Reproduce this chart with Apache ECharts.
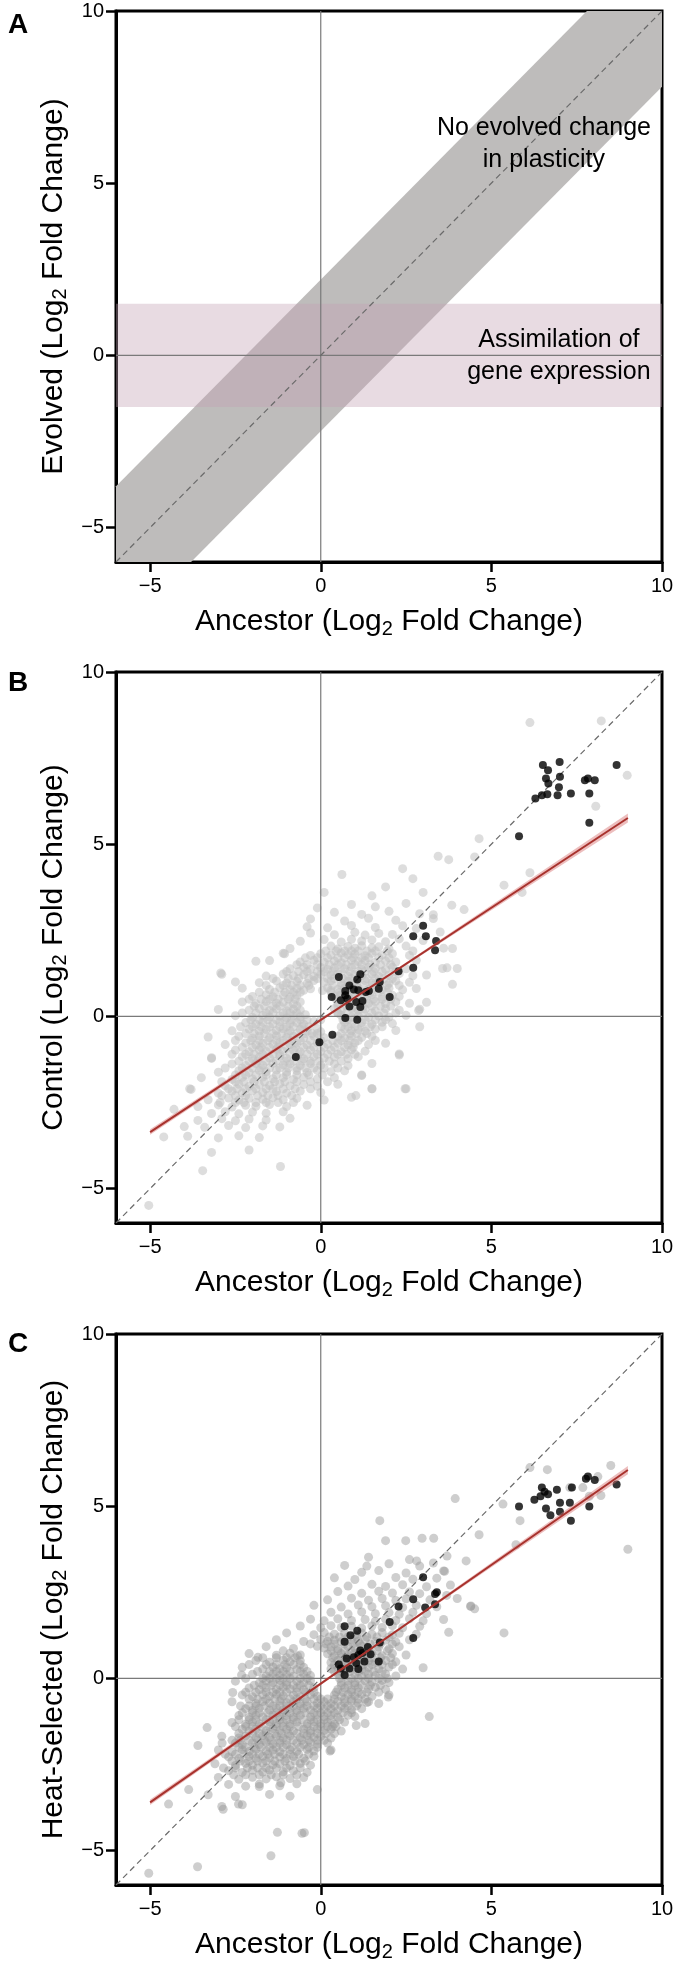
<!DOCTYPE html>
<html><head><meta charset="utf-8">
<script src="https://cdn.jsdelivr.net/npm/echarts@6/dist/echarts.min.js"></script>
<style>html,body{margin:0;padding:0;background:#fff}#c{width:677px;height:1971px}</style>
</head><body><div id="c"></div>
<script>
// ---------- data ----------
const tickValues = [-5, 0, 5, 10];
const axisMin = -6, axisMax = 10;
const panelLetters = ['A', 'B', 'C'];
const yTitles = ['Evolved', 'Control', 'Heat-Selected'];
const xTitle = 'Ancestor';
const diagonal = [[-6, -6], [10, 10]];
const zeroVertical = [[0, -6], [0, 10]];
const zeroHorizontal = [[-6, 0], [10, 0]];

// Panel A
const aIdentityBand = [[-6, -3.8], [7.8, 10], [10, 10], [10, 7.8], [-3.8, -6], [-6, -6]];
const aAssimilation = [-1.5, 1.5];
const aNotes = [
  { text: 'No evolved change\nin plasticity', at: [6.54, 6.13] },
  { text: 'Assimilation of\ngene expression', at: [6.98, -0.03] }
];

// Panel B (Control vs Ancestor)
const bGray = [
[-0.1,3.15],[0.9,3.25],[1.6,3.18],[2.5,3.28],
[0.4,3.02],[1.2,2.96],[2.0,3.05],[2.9,2.98],
[-0.3,2.83],[0.7,2.77],[1.4,2.85],[2.2,2.79],[3.3,2.84],
[0.2,2.57],[0.9,2.64],[1.6,2.58],[2.4,2.63],[2.8,2.55],
[-0.3,2.42],[0.4,2.37],[1.0,2.44],[1.3,2.36],[1.7,2.41],[2.1,2.38],[3.5,2.45],
[-0.6,2.18],[0.1,2.23],[0.6,2.16],[0.9,2.24],[1.2,2.19],[1.5,2.22],[1.9,2.17],[2.3,2.25],[3.0,2.2],
[-0.9,1.97],[0.3,2.04],[0.5,1.96],[0.8,2.03],[1.0,1.98],[1.2,2.05],[1.5,1.99],[1.7,2.02],[2.0,1.96],[2.5,2.04],[3.6,1.98],
[-1.1,1.83],[-0.3,1.77],[0.0,1.82],[0.3,1.78],[0.6,1.84],[0.8,1.79],[1.0,1.81],[1.3,1.76],[1.5,1.83],[1.8,1.78],[2.1,1.82],[2.6,1.77],
[-1.5,1.62],[-0.6,1.58],[-0.2,1.63],[0.1,1.57],[0.4,1.61],[0.6,1.56],[0.9,1.63],[1.1,1.59],[1.3,1.62],[1.6,1.57],[1.9,1.61],[2.2,1.58],[2.8,1.63],
[-0.9,1.38],[-0.5,1.43],[-0.3,1.37],[0.0,1.42],[0.2,1.36],[0.4,1.41],[0.7,1.38],[0.9,1.43],[1.2,1.37],[1.4,1.42],[1.6,1.39],[1.9,1.36],[2.1,1.43],[2.5,1.38],[3.7,1.41],
[-2.9,1.22],[-1.6,1.17],[-1.1,1.23],[-0.8,1.18],[-0.5,1.21],[-0.2,1.16],[0.0,1.22],[0.3,1.19],[0.5,1.24],[0.8,1.17],[1.0,1.21],[1.2,1.18],[1.5,1.23],[1.7,1.16],[2.0,1.2],[2.3,1.24],[2.7,1.18],
[-1.8,0.98],[-1.3,1.03],[-1.0,0.97],[-0.7,1.02],[-0.4,0.96],[-0.2,1.04],[0.1,0.99],[0.3,1.03],[0.6,0.97],[0.8,1.02],[1.0,0.98],[1.3,1.04],[1.5,0.97],[1.7,1.01],[2.0,0.96],[2.2,1.03],[2.6,0.99],
[-2.3,0.82],[-1.5,0.78],[-1.2,0.83],[-0.9,0.77],[-0.7,0.81],[-0.5,0.76],[0.2,0.83],[0.5,0.78],[0.7,0.82],[0.9,0.77],[1.1,0.81],[1.4,0.79],[1.6,0.84],[1.8,0.78],[2.0,0.82],[2.4,0.77],[2.8,0.81],
[-2.0,0.58],[-1.6,0.63],[-1.4,0.57],[-1.1,0.62],[-0.9,0.56],[-0.7,0.61],[0.4,0.59],[0.6,0.63],[0.8,0.57],[1.0,0.62],[1.3,0.58],[1.5,0.63],[1.8,0.56],[2.1,0.61],[2.3,0.58],
[-2.3,0.42],[-1.9,0.37],[-1.6,0.43],[-1.3,0.38],[-1.1,0.41],[-0.8,0.36],[-0.6,0.42],[0.5,0.38],[0.7,0.43],[0.9,0.37],[1.2,0.41],[1.4,0.38],[1.6,0.43],[1.9,0.37],[2.2,0.42],[2.6,0.38],[3.1,0.41],
[-2.1,0.18],[-1.8,0.23],[-1.5,0.17],[-1.3,0.22],[-1.0,0.16],[-0.8,0.21],[-0.6,0.18],[0.4,0.22],[0.6,0.17],[0.9,0.23],[1.1,0.18],[1.3,0.21],[1.6,0.16],[1.9,0.22],[2.3,0.18],[2.9,0.21],
[-2.5,0.02],[-2.0,-0.03],[-1.7,0.03],[-1.5,-0.02],[-1.2,0.01],[-1.0,-0.04],[-0.8,0.02],[-0.6,-0.01],[0.6,0.03],[0.9,-0.02],[1.1,0.02],[1.4,-0.03],[1.7,0.01],[2.0,-0.02],[2.5,0.03],
[-2.2,-0.18],[-1.9,-0.23],[-1.7,-0.17],[-1.4,-0.22],[-1.2,-0.16],[-0.9,-0.21],[-0.7,-0.18],[-0.5,-0.23],[0.7,-0.17],[0.9,-0.22],[1.2,-0.18],[1.5,-0.23],[1.8,-0.17],[2.1,-0.21],
[-2.6,-0.42],[-2.1,-0.37],[-1.8,-0.43],[-1.6,-0.38],[-1.3,-0.41],[-1.1,-0.36],[-0.9,-0.42],[-0.6,-0.38],[-0.4,-0.43],[0.7,-0.37],[0.9,-0.42],[1.1,-0.38],[1.3,-0.43],[1.6,-0.37],[2.2,-0.41],
[-2.4,-0.58],[-2.0,-0.63],[-1.8,-0.57],[-1.5,-0.62],[-1.3,-0.56],[-1.0,-0.61],[-0.8,-0.58],[-0.5,-0.63],[-0.2,-0.57],[0.1,-0.62],[0.5,-0.58],[0.7,-0.63],[0.9,-0.57],[1.2,-0.61],[1.5,-0.58],
[-2.8,-0.82],[-2.2,-0.77],[-1.9,-0.83],[-1.7,-0.78],[-1.4,-0.81],[-1.2,-0.76],[-0.9,-0.82],[-0.7,-0.78],[-0.4,-0.83],[-0.1,-0.77],[0.2,-0.81],[0.5,-0.78],[0.8,-0.83],[1.0,-0.77],[1.4,-0.82],[1.9,-0.78],
[-2.5,-0.98],[-2.1,-1.03],[-1.8,-0.97],[-1.6,-1.02],[-1.3,-0.96],[-1.1,-1.01],[-0.8,-0.98],[-0.6,-1.03],[-0.3,-0.97],[0.0,-1.02],[0.3,-0.98],[0.6,-1.03],[0.9,-0.97],[1.3,-1.01],
[-3.2,-1.22],[-2.3,-1.17],[-2.0,-1.23],[-1.8,-1.18],[-1.5,-1.21],[-1.2,-1.16],[-1.0,-1.22],[-0.7,-1.18],[-0.5,-1.23],[-0.2,-1.17],[0.1,-1.21],[0.4,-1.18],[0.8,-1.23],[1.1,-1.17],[2.3,-1.12],
[-2.6,-1.38],[-2.2,-1.43],[-1.9,-1.37],[-1.7,-1.42],[-1.4,-1.36],[-1.1,-1.41],[-0.9,-1.38],[-0.6,-1.43],[-0.3,-1.37],[0.0,-1.42],[0.4,-1.38],[0.8,-1.43],[1.5,-1.37],
[-3.0,-1.62],[-2.4,-1.58],[-2.1,-1.63],[-1.8,-1.57],[-1.6,-1.61],[-1.3,-1.56],[-1.0,-1.62],[-0.7,-1.58],[-0.4,-1.63],[-0.1,-1.57],[0.3,-1.61],[0.7,-1.58],
[-3.5,-1.78],[-2.6,-1.83],[-2.3,-1.77],[-2.0,-1.82],[-1.7,-1.76],[-1.4,-1.81],[-1.1,-1.78],[-0.8,-1.83],[-0.5,-1.77],[-0.1,-1.82],[0.4,-1.78],[1.2,-1.72],
[-2.8,-2.02],[-2.4,-1.97],[-2.1,-2.03],[-1.8,-1.98],[-1.5,-2.01],[-1.2,-1.96],[-0.9,-2.02],[-0.5,-1.98],[-0.1,-2.03],[0.5,-1.97],
[-3.8,-2.12],[-3.0,-2.23],[-2.6,-2.17],[-2.3,-2.22],[-2.0,-2.16],[-1.7,-2.21],[-1.3,-2.18],[-1.0,-2.23],[-0.6,-2.17],[0.0,-2.21],[1.5,-2.1],[2.5,-2.1],
[-3.3,-2.42],[-2.7,-2.37],[-2.4,-2.43],[-2.1,-2.38],[-1.7,-2.41],[-1.4,-2.36],[-1.1,-2.42],[-0.7,-2.38],[0.1,-2.43],
[-3.6,-2.62],[-3.0,-2.57],[-2.6,-2.63],[-2.2,-2.58],[-1.9,-2.61],[-1.5,-2.56],[-1.0,-2.62],[-0.4,-2.58],[0.9,-2.35],
[-3.2,-2.82],[-2.8,-2.77],[-2.4,-2.83],[-2.0,-2.78],[-1.6,-2.81],[-1.1,-2.77],
[-3.6,-3.02],[-2.9,-2.97],[-2.5,-3.03],[-2.1,-2.98],[-1.6,-3.01],[-0.9,-2.96],
[-3.4,-3.22],[-2.7,-3.17],[-2.2,-3.23],[-1.7,-3.18],[-1.2,-3.21],
[-3.9,-3.48],[-3.0,-3.53],[-2.4,-3.47],[-1.8,-3.52],
[-2.1,-3.88],[-3.2,-3.95],[-3.46,-4.48],[-1.18,-4.36],[-5.04,-5.49],[-4.3,-2.7],[-4.0,-3.2],[-4.6,-3.5],[-3.84,-2.1],[-3.2,-1.2],[-3.3,-0.6],[-3.0,0.2],[-2.5,1.0],[-2.93,1.26],[-1.9,1.6],[-1.06,1.82],[-0.4,2.6],[0.1,3.6],[0.62,4.12],[1.5,3.5],[1.9,3.76],[2.4,4.29],[2.7,4.0],[3.0,3.6],[3.44,4.65],[3.75,4.55],[4.51,4.63],[4.64,5.16],[3.84,3.23],[3.3,2.95],[4.2,3.1],[5.37,3.81],[5.9,3.6],[6.13,4.17],[3.86,1.97],[3.57,1.39],[4.0,1.39],[3.86,0.93],[2.7,1.9],[3.1,1.2],[2.87,0.17],[2.9,-0.3],[2.3,-1.09],[2.47,-2.1],[1.5,-2.1],[1.03,-2.3],[1.2,-1.7],[6.13,8.53],[8.22,8.58],[8.98,7.0],[8.06,6.1],
[-0.4,-0.1],[-0.2,-0.15],[0.0,-0.1],[-0.35,-0.3],[-0.1,-0.35],[-0.25,-0.5],[0.0,-0.45],[-0.45,0.05],[0.5,0.1],[0.05,0.75],[-0.3,0.8],[0.3,0.75],[0.55,0.6]
];
// dense-core fill-in rows for panel B: [y, [x values]]
const bGrayCoreRows = [
[1.9,[0.15,0.45,0.7,0.9,1.1,1.35,1.6,1.95]],
[1.7,[-0.45,-0.1,0.2,0.5,0.7,0.95,1.2,1.4,1.7,2.0]],
[1.5,[-0.7,-0.4,-0.1,0.25,0.5,0.75,1.0,1.2,1.45,1.75,2.05]],
[1.3,[-1.0,-0.65,-0.4,-0.1,0.1,0.35,0.6,0.85,1.1,1.3,1.55,1.8,2.2]],
[1.1,[-1.4,-0.95,-0.65,-0.35,-0.1,0.2,0.4,0.65,0.9,1.1,1.35,1.6,1.85,2.1]],
[0.9,[-1.6,-1.1,-0.85,-0.6,-0.35,0.35,0.6,0.8,1.05,1.25,1.5,1.7,1.95,2.3]],
[0.7,[-1.8,-1.35,-1.05,-0.8,-0.6,0.3,0.55,0.75,0.95,1.2,1.45,1.7,1.95]],
[0.5,[-2.1,-1.75,-1.5,-1.25,-0.95,-0.75,0.45,0.65,0.85,1.1,1.35,1.55,1.8,2.05]],
[0.3,[-1.95,-1.65,-1.4,-1.2,-0.95,-0.7,0.5,0.75,1.0,1.25,1.5,1.75,2.05]],
[0.1,[-2.3,-1.9,-1.6,-1.4,-1.1,-0.9,-0.7,0.5,0.75,1.0,1.25,1.5,1.85,2.2]],
[-0.1,[-2.05,-1.8,-1.55,-1.3,-1.05,-0.85,-0.6,0.65,0.8,1.05,1.3,1.6,1.9]],
[-0.3,[-2.35,-2.0,-1.75,-1.5,-1.2,-1.0,-0.8,-0.55,0.6,0.8,1.0,1.2,1.45,1.8]],
[-0.5,[-2.2,-1.95,-1.65,-1.4,-1.15,-0.95,-0.7,-0.45,-0.1,0.6,0.85,1.05,1.35]],
[-0.7,[-2.5,-2.05,-1.8,-1.55,-1.3,-1.1,-0.85,-0.6,-0.3,0.0,0.35,0.6,0.85,1.1,1.6]],
[-0.9,[-2.3,-2.0,-1.75,-1.5,-1.25,-1.0,-0.75,-0.5,-0.2,0.1,0.4,0.7,0.95]],
[-1.1,[-2.6,-2.2,-1.95,-1.7,-1.4,-1.2,-0.9,-0.65,-0.4,-0.1,0.2,0.5,0.75,1.0]],
[-1.3,[-2.4,-2.1,-1.85,-1.6,-1.3,-1.05,-0.8,-0.55,-0.3,-0.05,0.25,0.6]],
[-1.5,[-2.8,-2.3,-2.0,-1.75,-1.5,-1.2,-0.95,-0.7,-0.45,-0.2,0.1,0.5]],
[-1.7,[-2.5,-2.2,-1.9,-1.6,-1.3,-1.0,-0.7,-0.35,0.05]],
[-1.9,[-2.9,-2.5,-2.25,-1.95,-1.65,-1.35,-1.05,-0.7,-0.3,0.2]],
[-2.1,[-2.7,-2.45,-2.2,-1.9,-1.6,-1.4,-1.1,-0.75,-0.3]],
[-2.3,[-2.9,-2.5,-2.2,-1.85,-1.55,-1.25,-0.85]],
[-2.5,[-2.95,-2.5,-2.25,-1.9,-1.6,-1.25,-0.8]]
];
const bBlack = [
[5.81,5.23],[7.87,5.62],[6.29,6.33],[6.48,6.42],[6.64,6.45],[6.94,6.42],[7.33,6.47],[7.87,6.47],[6.67,6.76],[6.98,6.65],[7.74,6.86],[8.03,6.86],[7.83,6.91],[6.51,7.30],[7.0,7.39],[6.66,7.15],[8.67,7.30],[6.60,6.91],[7.01,6.96],
[0.53,1.14],[0.32,0.56],[1.07,1.07],[1.16,1.22],[0.84,0.90],[0.72,0.74],[0.72,0.61],[0.59,0.47],[0.78,0.51],[1.10,0.76],[1.22,0.45],[1.41,0.74],[1.70,0.80],[1.73,1.00],[2.02,0.56],[0.84,0.29],[1.16,0.27],[0.72,-0.05],[1.07,-0.10],[0.34,-0.53],[-0.04,-0.75],[-0.73,-1.18],[2.28,1.31],[2.71,1.41],[2.71,2.33],[3.0,2.63],[3.08,2.33],[3.38,2.19],[3.35,1.92],[0.97,0.78],[1.32,0.71],[1.04,0.42]
];
const bFit = [[-5, -3.36], [9, 5.76]];
const bFitBand = [[-5, -3.44], [2, 1.17], [9, 5.63], [9, 5.89], [2, 1.23], [-5, -3.28]];

// Panel C (Heat-Selected vs Ancestor)
const cGray = [
[1.4,3.52],[2.6,3.45],[3.7,3.55],
[0.7,3.28],[2.0,3.33],[2.9,3.26],[3.3,3.35],
[1.2,3.08],[1.7,3.13],[2.5,3.06],[3.6,3.12],
[0.4,2.92],[1.0,2.87],[2.2,2.93],[2.7,2.88],[3.4,2.91],
[0.8,2.68],[1.5,2.73],[1.9,2.67],[2.4,2.72],[3.1,2.66],[3.8,2.71],
[0.5,2.52],[1.2,2.47],[1.7,2.53],[2.1,2.48],[2.6,2.51],[2.9,2.46],
[0.2,2.28],[0.9,2.33],[1.4,2.27],[1.8,2.32],[2.2,2.26],[2.5,2.31],[3.2,2.28],[4.0,2.32],
[-0.2,2.12],[0.6,2.07],[1.1,2.13],[1.5,2.08],[1.9,2.11],[2.4,2.06],[2.8,2.12],[3.4,2.08],[4.4,2.1],
[0.3,1.92],[0.8,1.87],[1.2,1.93],[1.6,1.88],[2.0,1.91],[2.3,1.86],[2.7,1.92],[3.1,1.88],
[-0.3,1.72],[0.1,1.67],[0.5,1.73],[0.9,1.68],[1.3,1.71],[1.6,1.66],[1.9,1.72],[2.2,1.68],[2.6,1.73],[3.0,1.67],[3.6,1.71],
[-0.6,1.52],[0.0,1.47],[0.3,1.53],[0.6,1.48],[0.9,1.51],[1.2,1.46],[1.5,1.52],[1.8,1.48],[2.1,1.53],[2.4,1.47],[2.9,1.51],
[-1.0,1.32],[-0.2,1.27],[0.1,1.33],[0.4,1.28],[0.7,1.31],[1.0,1.26],[1.2,1.32],[1.5,1.28],[1.8,1.33],[2.1,1.27],[2.3,1.31],[2.8,1.28],
[-1.3,1.12],[-0.5,1.07],[0.0,1.13],[0.2,1.08],[0.4,1.11],[0.6,1.06],[0.9,1.12],[1.1,1.08],[1.3,1.13],[1.6,1.07],[1.9,1.11],[2.2,1.06],[2.6,1.12],
[-1.6,0.92],[-0.8,0.87],[-0.1,0.93],[0.1,0.88],[0.3,0.91],[0.5,0.86],[0.8,0.92],[1.0,0.88],[1.2,0.93],[1.4,0.87],[1.7,0.91],[2.0,0.86],[2.3,0.92],
[-2.1,0.72],[-1.3,0.67],[-0.9,0.73],[-0.6,0.68],[0.2,0.71],[0.4,0.66],[0.6,0.72],[0.8,0.68],[1.0,0.73],[1.3,0.67],[1.5,0.71],[1.8,0.66],[2.1,0.72],[2.5,0.68],
[-1.9,0.52],[-1.5,0.47],[-1.1,0.53],[-0.9,0.48],[-0.6,0.51],[0.3,0.46],[0.5,0.52],[0.7,0.48],[0.9,0.53],[1.1,0.47],[1.4,0.51],[1.6,0.46],[1.9,0.52],[2.2,0.48],
[-2.3,0.32],[-1.7,0.27],[-1.4,0.33],[-1.2,0.28],[-1.0,0.31],[-0.7,0.26],[-0.5,0.32],[0.3,0.28],[0.5,0.33],[0.7,0.27],[0.9,0.31],[1.2,0.26],[1.4,0.32],[1.7,0.28],[2.0,0.33],[2.4,0.27],[3.0,0.31],
[-2.0,0.12],[-1.6,0.07],[-1.4,0.13],[-1.2,0.08],[-1.0,0.11],[-0.8,0.06],[-0.5,0.12],[-0.3,0.08],[0.5,0.13],[0.7,0.07],[1.0,0.11],[1.2,0.06],[1.4,0.12],[1.6,0.08],[1.9,0.13],[2.2,0.07],
[-2.5,-0.08],[-1.8,-0.13],[-1.6,-0.07],[-1.4,-0.12],[-1.2,-0.06],[-1.0,-0.11],[-0.7,-0.08],[-0.5,-0.13],[-0.3,-0.07],[0.6,-0.12],[0.8,-0.08],[1.0,-0.13],[1.3,-0.07],[1.5,-0.11],[1.8,-0.06],[2.0,-0.12],
[-2.1,-0.28],[-1.8,-0.33],[-1.6,-0.27],[-1.3,-0.32],[-1.1,-0.26],[-0.9,-0.31],[-0.7,-0.28],[-0.5,-0.33],[-0.2,-0.27],[0.5,-0.32],[0.7,-0.28],[0.9,-0.33],[1.1,-0.27],[1.4,-0.31],[1.6,-0.26],[1.9,-0.32],
[-2.3,-0.48],[-2.0,-0.53],[-1.7,-0.47],[-1.5,-0.52],[-1.3,-0.46],[-1.1,-0.51],[-0.8,-0.48],[-0.6,-0.53],[-0.3,-0.47],[-0.1,-0.52],[0.4,-0.48],[0.6,-0.53],[0.8,-0.47],[1.0,-0.51],[1.2,-0.46],[1.5,-0.52],[2.0,-0.48],
[-2.6,-0.68],[-1.9,-0.73],[-1.7,-0.67],[-1.5,-0.72],[-1.2,-0.66],[-1.0,-0.71],[-0.8,-0.68],[-0.6,-0.73],[-0.4,-0.67],[-0.1,-0.72],[0.1,-0.68],[0.3,-0.73],[0.5,-0.67],[0.7,-0.71],[0.9,-0.66],[1.1,-0.72],[1.4,-0.68],[1.7,-0.73],
[-2.2,-0.88],[-2.0,-0.93],[-1.8,-0.87],[-1.5,-0.92],[-1.3,-0.86],[-1.1,-0.91],[-0.9,-0.88],[-0.7,-0.93],[-0.5,-0.87],[-0.3,-0.92],[-0.1,-0.86],[0.1,-0.91],[0.3,-0.88],[0.5,-0.93],[0.7,-0.87],[0.9,-0.91],[1.2,-0.88],
[-2.4,-1.08],[-2.1,-1.13],[-1.9,-1.07],[-1.7,-1.12],[-1.4,-1.06],[-1.2,-1.11],[-1.0,-1.08],[-0.8,-1.13],[-0.6,-1.07],[-0.3,-1.12],[-0.1,-1.06],[0.1,-1.11],[0.3,-1.08],[0.5,-1.13],[0.8,-1.07],[1.0,-1.11],
[-2.6,-1.28],[-2.2,-1.33],[-2.0,-1.27],[-1.8,-1.32],[-1.5,-1.26],[-1.3,-1.31],[-1.1,-1.28],[-0.9,-1.33],[-0.7,-1.27],[-0.4,-1.32],[-0.2,-1.26],[0.0,-1.31],[0.2,-1.28],[0.4,-1.33],[0.7,-1.27],[1.3,-1.31],
[-2.3,-1.48],[-2.1,-1.53],[-1.9,-1.47],[-1.6,-1.52],[-1.4,-1.46],[-1.2,-1.51],[-1.0,-1.48],[-0.8,-1.53],[-0.5,-1.47],[-0.3,-1.52],[-0.1,-1.46],[0.1,-1.51],[0.3,-1.48],[0.6,-1.53],
[-2.9,-1.68],[-2.4,-1.73],[-2.2,-1.67],[-1.9,-1.72],[-1.7,-1.66],[-1.5,-1.71],[-1.3,-1.68],[-1.1,-1.73],[-0.9,-1.67],[-0.6,-1.72],[-0.4,-1.66],[-0.2,-1.71],[0.0,-1.68],[0.3,-1.73],
[-2.5,-1.88],[-2.3,-1.93],[-2.0,-1.87],[-1.8,-1.92],[-1.6,-1.86],[-1.4,-1.91],[-1.2,-1.88],[-1.0,-1.93],[-0.7,-1.87],[-0.5,-1.92],[-0.3,-1.86],[-0.1,-1.91],[0.2,-1.88],
[-3.0,-2.08],[-2.6,-2.13],[-2.3,-2.07],[-2.1,-2.12],[-1.9,-2.06],[-1.6,-2.11],[-1.4,-2.08],[-1.2,-2.13],[-0.9,-2.07],[-0.7,-2.12],[-0.4,-2.06],[-0.2,-2.11],[0.3,-2.08],
[-2.7,-2.28],[-2.4,-2.33],[-2.1,-2.27],[-1.9,-2.32],[-1.7,-2.26],[-1.5,-2.31],[-1.2,-2.28],[-1.0,-2.33],[-0.8,-2.27],[-0.5,-2.32],[-0.2,-2.26],
[-3.1,-2.48],[-2.5,-2.53],[-2.2,-2.47],[-2.0,-2.52],[-1.7,-2.46],[-1.4,-2.51],[-1.2,-2.48],[-0.9,-2.53],[-0.6,-2.47],[-0.3,-2.52],
[-2.7,-2.68],[-2.3,-2.73],[-2.0,-2.67],[-1.7,-2.72],[-1.5,-2.66],[-1.1,-2.71],[-0.8,-2.68],[-0.4,-2.73],
[-3.0,-2.88],[-2.4,-2.93],[-2.0,-2.87],[-1.6,-2.92],[-1.3,-2.86],[-0.9,-2.91],[-0.5,-2.88],
[-2.7,-3.08],[-2.2,-3.13],[-1.8,-3.07],[-1.2,-3.12],[-0.7,-3.06],
[-3.3,-3.38],[-2.5,-3.43],[-1.5,-3.37],[-0.9,-3.42],
[-2.9,-3.72],[-2.3,-3.67],
[-5.04,-5.66],[-3.61,-5.47],[-1.46,-5.15],[-1.27,-4.47],[-0.55,-4.5],[-0.48,-4.48],[-4.46,-3.65],[-3.87,-3.23],[-2.86,-3.8],[-2.41,-3.65],[-1.8,-3.14],[-1.17,-3.03],[-0.1,-3.23],[-3.6,-1.95],[-3.33,-1.43],[-2.89,-1.88],[3.18,-1.11],[1.98,-0.54],[1.35,-0.7],[1.04,-1.37],[0.34,-1.4],[0.27,-2.11],[-1.84,0.61],[-2.32,0.1],[-2.58,-0.41],[-0.68,0.65],[1.73,4.58],[3.94,5.22],[2.97,4.07],[3.31,4.07],[2.49,4.0],[2.81,3.41],[4.26,3.41],[3.63,3.11],[4.64,4.17],[5.34,5.06],[5.84,4.58],[6.13,6.12],[6.64,6.06],[7.3,5.54],[8.12,5.86],[8.5,6.18],[7.87,5.29],[7.68,5.54],[8.21,5.31],[9.0,3.75],[5.72,3.88],[5.37,1.32],[4.51,2.02],[4.39,2.09],[3.75,1.34],[3.69,2.41],[1.35,3.26],[1.9,4.0]
];
// dense-core fill-in rows for panel C: [y, [x values]]
const cGrayCoreRows = [
[1.2,[0.25,0.55,0.8,1.05,1.35,1.65,2.0]],
[1.0,[-0.3,0.15,0.4,0.7,0.95,1.15,1.45,1.75,2.1]],
[0.8,[-1.1,0.3,0.5,0.7,0.9,1.15,1.4,1.65,1.95]],
[0.6,[-1.7,-1.3,-1.0,-0.75,0.35,0.6,0.8,1.05,1.25,1.5,1.75,2.05]],
[0.4,[-2.1,-1.6,-1.3,-1.05,-0.8,-0.6,0.4,0.6,0.8,1.0,1.25,1.5,1.8,2.1]],
[0.2,[-1.85,-1.5,-1.3,-1.1,-0.9,-0.6,-0.4,0.4,0.6,0.85,1.1,1.3,1.55,1.8]],
[0.0,[-2.2,-1.7,-1.5,-1.3,-1.1,-0.9,-0.6,-0.4,0.55,0.9,1.1,1.4,1.7,1.95]],
[-0.2,[-1.95,-1.7,-1.45,-1.2,-1.0,-0.8,-0.6,-0.35,0.6,0.8,1.0,1.2,1.45,1.75]],
[-0.4,[-2.2,-1.9,-1.6,-1.4,-1.2,-1.0,-0.7,-0.45,-0.2,0.45,0.65,0.9,1.1,1.35,1.7]],
[-0.6,[-2.1,-1.85,-1.6,-1.35,-1.15,-0.9,-0.7,-0.45,-0.2,0.0,0.2,0.4,0.7,0.9,1.1,1.3]],
[-0.8,[-2.35,-2.1,-1.9,-1.65,-1.4,-1.2,-1.0,-0.8,-0.6,-0.4,-0.2,0.0,0.2,0.4,0.6,0.8,1.05]],
[-1.0,[-2.3,-2.0,-1.8,-1.55,-1.3,-1.1,-0.9,-0.7,-0.45,-0.2,0.0,0.2,0.4,0.65,0.9]],
[-1.2,[-2.4,-2.1,-1.9,-1.6,-1.4,-1.2,-1.0,-0.8,-0.55,-0.3,-0.1,0.1,0.3,0.55]],
[-1.4,[-2.5,-2.2,-2.0,-1.75,-1.5,-1.3,-1.1,-0.9,-0.65,-0.4,-0.2,0.0,0.2,0.45]],
[-1.6,[-2.4,-2.0,-1.8,-1.6,-1.35,-1.15,-0.95,-0.7,-0.5,-0.3,-0.1,0.15,0.4]],
[-1.8,[-2.6,-2.35,-2.1,-1.85,-1.65,-1.45,-1.2,-1.0,-0.8,-0.55,-0.35,-0.1,0.1]],
[-2.0,[-2.4,-2.2,-1.95,-1.75,-1.5,-1.3,-1.1,-0.85,-0.6,-0.35,-0.1]],
[-2.2,[-2.8,-2.5,-2.25,-2.0,-1.8,-1.55,-1.35,-1.1,-0.9,-0.65,-0.35]],
[-2.4,[-2.6,-2.35,-2.1,-1.85,-1.6,-1.35,-1.05,-0.75,-0.45]],
[-2.6,[-2.85,-2.5,-2.15,-1.85,-1.6,-1.3,-1.0,-0.6]],
[-2.8,[-2.55,-2.2,-1.8,-1.45,-1.1,-0.7]]
];
const cBlack = [
[5.81,4.99],[6.26,5.19],[6.48,5.54],[6.44,5.29],[6.66,5.35],[6.60,4.93],[6.73,4.74],[6.92,5.48],[7.01,5.10],[7.01,4.84],[7.30,5.10],[7.33,4.58],[7.36,5.54],[7.77,5.80],[7.83,5.86],[8.03,5.76],[7.87,4.99],[8.67,5.63],[6.56,5.42],
[0.70,1.51],[0.70,1.06],[0.87,1.25],[1.07,1.38],[1.73,1.04],[2.02,1.64],[2.28,2.09],[2.71,2.30],[2.71,1.17],[3.0,2.94],[3.06,2.06],[3.35,2.15],[3.40,2.50],[3.35,2.45],
[0.53,0.40],[0.59,0.29],[0.70,0.10],[0.76,0.58],[0.84,0.29],[1.04,0.45],[1.10,0.68],[1.22,0.74],[1.38,0.91],[1.46,0.70],[1.28,0.49],[1.10,0.27],[1.70,0.49],[1.16,0.81],[0.97,0.61]
];
const cFit = [[-5, -3.6], [9, 6.05]];
const cFitBand = [[-5, -3.68], [2, 1.20], [9, 5.93], [9, 6.17], [2, 1.25], [-5, -3.52]];

// ---------- chart ----------
const FONT = "'Liberation Sans', Arial, Helvetica, sans-serif";
const chart = echarts.init(document.getElementById('c'));
const gridBoxes = [
  { left: 116, top: 11, width: 546, height: 551 },
  { left: 116, top: 672, width: 546, height: 551 },
  { left: 116, top: 1334, width: 546, height: 551 }
];
const rowsToPoints = rows => rows.flatMap(r => r[1].map(x => [x, r[0]]));
const fmt = v => String(v).replace('-', '\u2212');
const nameStyle = {
  fontSize: 30, color: '#000', fontFamily: FONT, lineHeight: 34,
  rich: { sub: { fontSize: 20, color: '#000', fontFamily: FONT, lineHeight: 20, verticalAlign: 'bottom' } }
};
function axisCommon(gi) {
  return {
    gridIndex: gi, type: 'value', min: axisMin, max: axisMax,
    nameLocation: 'middle', nameTextStyle: nameStyle,
    axisLine: { onZero: false, lineStyle: { color: '#000', width: 3 } },
    axisTick: { customValues: tickValues, length: 10, lineStyle: { color: '#000', width: 2.5 } },
    axisLabel: { customValues: tickValues, formatter: fmt, fontSize: 20, color: '#000', fontFamily: FONT },
    splitLine: { show: false }
  };
}
const xAxes = [], yAxes = [];
for (let i = 0; i < 3; i++) {
  const xa = axisCommon(i);
  xa.name = xTitle + ' (Log{sub|2} Fold Change)';
  xa.nameGap = 43;
  xa.axisLabel.margin = 14;
  xAxes.push(xa);
  const ya = axisCommon(i);
  ya.name = yTitles[i] + ' (Log{sub|2} Fold Change)';
  ya.nameGap = 45;
  ya.nameRotate = 90;
  ya.axisLabel.margin = 12;
  yAxes.push(ya);
}
function polygon(gi, pts, fill, z) {
  return {
    type: 'custom', xAxisIndex: gi, yAxisIndex: gi, z: z, silent: true,
    data: [0],
    renderItem: (params, api) => ({
      type: 'polygon',
      shape: { points: pts.map(p => api.coord(p)) },
      style: { fill: fill }
    })
  };
}
function line(gi, pts, color, width, type, z) {
  return {
    type: 'line', xAxisIndex: gi, yAxisIndex: gi, data: pts, z: z, silent: true,
    symbol: 'none', lineStyle: { color: color, width: width, type: type }
  };
}
function guides(gi) {
  return [
    line(gi, zeroVertical, '#7a7a7a', 1.2, 'solid', 5),
    line(gi, zeroHorizontal, '#7a7a7a', 1.2, 'solid', 5),
    line(gi, diagonal, '#6a6a6a', 1.2, [6, 4], 6)
  ];
}
function scatter(gi, pts, color, size, z) {
  return {
    type: 'scatter', xAxisIndex: gi, yAxisIndex: gi, data: pts, z: z, silent: true,
    symbolSize: size, itemStyle: { color: color }
  };
}
const assimPoly = [[axisMin, aAssimilation[0]], [axisMax, aAssimilation[0]], [axisMax, aAssimilation[1]], [axisMin, aAssimilation[1]]];
const bGrayColor = 'rgba(192,192,192,0.68)';
const cGrayColor = 'rgba(152,152,152,0.6)';
const series = [
  polygon(0, aIdentityBand, '#bebcbb', 1),
  polygon(0, assimPoly, 'rgba(195,160,178,0.38)', 2),
  ...guides(0),
  {
    type: 'scatter', xAxisIndex: 0, yAxisIndex: 0, z: 8, silent: true,
    symbolSize: 2, itemStyle: { color: 'rgba(0,0,0,0)' },
    data: aNotes.map(n => ({ value: n.at, label: { formatter: n.text } })),
    label: { show: true, position: 'inside', color: '#000', opacity: 1, textBorderWidth: 0, fontSize: 25, lineHeight: 32, fontFamily: FONT, align: 'center', verticalAlign: 'middle' }
  },
  scatter(1, bGray, bGrayColor, 9, 2),
  scatter(1, rowsToPoints(bGrayCoreRows), bGrayColor, 9, 2),
  ...guides(1),
  scatter(1, bBlack, '#000', 8, 7),
  polygon(1, bFitBand, 'rgba(215,110,110,0.45)', 8),
  line(1, bFit, '#a8322d', 2, 'solid', 9),
  scatter(2, cGray, cGrayColor, 9, 2),
  scatter(2, rowsToPoints(cGrayCoreRows), cGrayColor, 9, 2),
  ...guides(2),
  scatter(2, cBlack, '#000', 8, 7),
  polygon(2, cFitBand, 'rgba(215,110,110,0.45)', 8),
  line(2, cFit, '#a8322d', 2, 'solid', 9)
];
chart.setOption({
  animation: false,
  backgroundColor: '#fff',
  title: panelLetters.map((t, i) => ({
    text: t, left: 3, top: [6, 664, 1325][i],
    textStyle: { fontSize: 28, fontWeight: 'bold', color: '#000', fontFamily: FONT }
  })),
  grid: gridBoxes.map(g => Object.assign({ show: true, borderColor: '#000', borderWidth: 3, containLabel: false }, g)),
  xAxis: xAxes,
  yAxis: yAxes,
  series: series
});
</script></body></html>
